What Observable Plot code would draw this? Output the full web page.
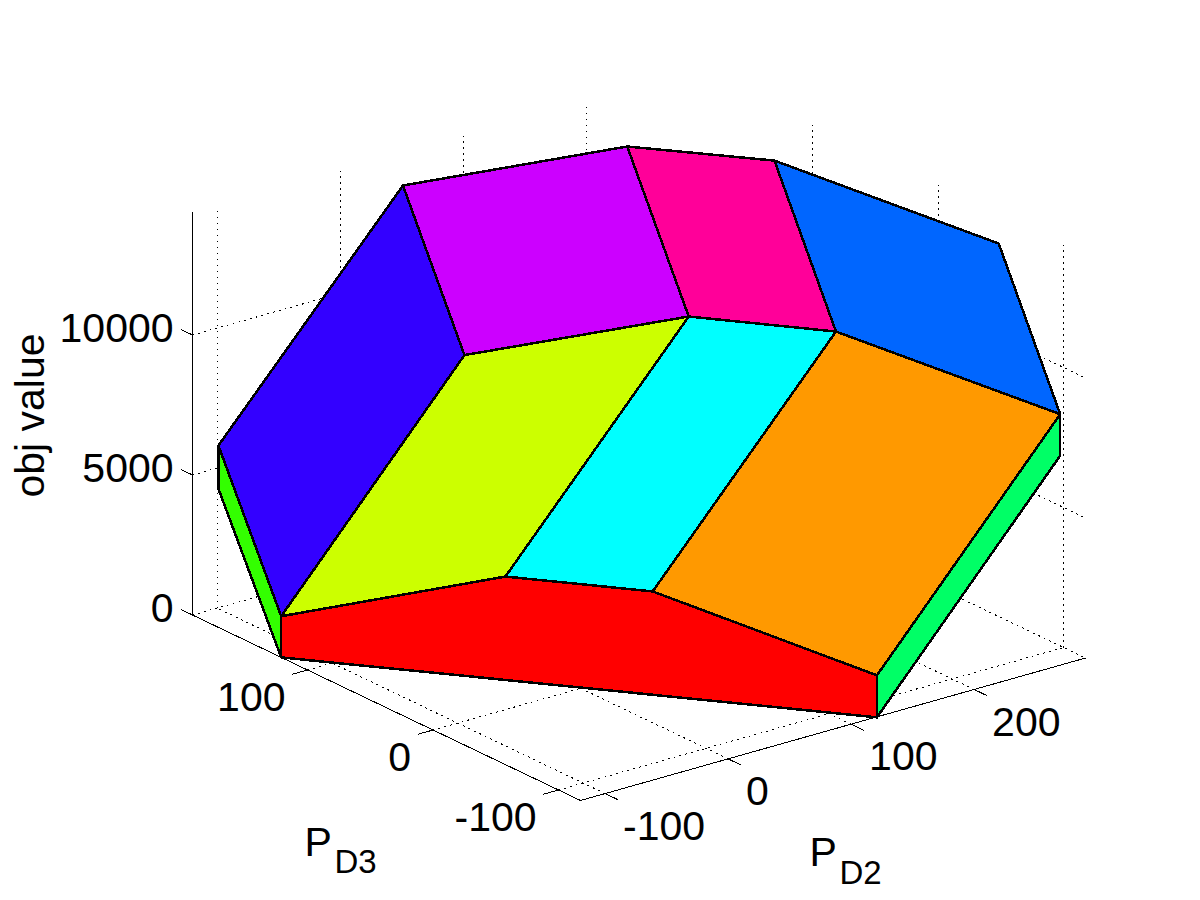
<!DOCTYPE html>
<html>
<head>
<meta charset="utf-8">
<style>html,body{margin:0;padding:0;background:#fff;}svg{display:block;}</style>
<script src="https://cdn.jsdelivr.net/npm/d3@7"></script>
<script src="https://cdn.jsdelivr.net/npm/@observablehq/plot@0.6"></script>
</head>
<body>
<div id="chart"></div>
<script>
const p2Ticks = [-100, 0, 100, 200];
const p3Ticks = [-100, 0, 100];
const objTicks = [0, 5000, 10000];
const p2Limits = [-120, 290.6];
const p3Limits = [-117.5, 191.6];
const objLimits = [0, 14360];

const vertexIds = ["a0","a1","a2","a3","b0","b1","b2","b3","c0","c1","c2","c3","l","lb","ab","bb","rb"];
const vertexP2  = [-120,-29.5,30,120.5, 29,119.5,179,269.5, 29,119.5,179,269.5, -120,-120, -120,120.5,269.5];
const vertexP3  = [121,31,-28,-118, 121,31,-28,-118, 170,80,21,-69, 171,171, 121,-118,-118];
const vertexObj = [1470,3695,3690,1500, 8950,11135,11125,8980, 13957,16157,16180,14025, 6496,4950, 0,0,7500];

const faceColors = ["#3300ff","#cc00ff","#ff0099","#0066ff","#ccff00","#00ffff","#ff9900","#ff0000","#33ff00","#00ff66"];
const faceVertices = [
  ["l","c0","b0","a0"],
  ["c0","c1","b1","b0"],
  ["c1","c2","b2","b1"],
  ["c2","c3","b3","b2"],
  ["b0","b1","a1","a0"],
  ["b1","b2","a2","a1"],
  ["b2","b3","a3","a2"],
  ["a0","a1","a2","a3","bb","ab"],
  ["l","a0","ab","lb"],
  ["a3","b3","rb","bb"]
];

// MATLAB-style orthographic view of the axes box
const sx = (p2, p3) => 580 + 1.23 * (p2 - p2Limits[0]) - 1.255 * (p3 - p3Limits[0]);
const sy = (p2, p3, z) => 800 - 0.347 * (p2 - p2Limits[0]) - 0.6 * (p3 - p3Limits[0]) - 0.028 * z;
const pt = (p2, p3, z, key) => ({x: sx(p2, p3), y: sy(p2, p3, z), key});

const byId = new Map(vertexIds.map((id, i) => [id, [vertexP2[i], vertexP3[i], vertexObj[i]]]));
const faceRows = faceVertices.flatMap((ids, f) => ids.map(id => {
  const [a, b, c] = byId.get(id);
  return {...pt(a, b, c), face: f, color: faceColors[f]};
}));

const [p2a, p2b] = p2Limits, [p3a, p3b] = p3Limits, [za, zb] = objLimits;
const seg = (key, a, b) => [pt(...a, key), pt(...b, key)];

const gridRows = [
  ...p2Ticks.flatMap(v => [
    ...seg("fp2" + v, [v, p3a, 0], [v, p3b, 0]),
    ...seg("wp2" + v, [v, p3b, 0], [v, p3b, zb])
  ]),
  ...p3Ticks.flatMap(v => [
    ...seg("fp3" + v, [p2a, v, 0], [p2b, v, 0]),
    ...seg("wp3" + v, [p2b, v, 0], [p2b, v, zb])
  ]),
  ...objTicks.flatMap(v => [
    ...seg("wa" + v, [p2a, p3b, v], [p2b, p3b, v]),
    ...seg("wb" + v, [p2b, p3b, v], [p2b, p3a, v])
  ])
];

const axisRows = [
  ...seg("az", [p2a, p3b, za], [p2a, p3b, zb]),
  ...seg("ap3", [p2a, p3b, 0], [p2a, p3a, 0]),
  ...seg("ap2", [p2a, p3a, 0], [p2b, p3a, 0]),
  ...p2Ticks.flatMap(v => seg("tp2" + v, [v, p3a, 0], [v, p3a - 10, 0])),
  ...p3Ticks.flatMap(v => seg("tp3" + v, [p2a, v, 0], [p2a - 12, v, 0])),
  ...objTicks.flatMap(v => seg("tz" + v, [p2a, p3b, v], [p2a, p3b + 9, v]))
];

const p2Labels = p2Ticks.map(v => ({...pt(v, p3a, 0), text: String(v)}));
const p3Labels = p3Ticks.map(v => ({...pt(p2a, v, 0), text: String(v)}));
const zLabels = objTicks.map(v => ({...pt(p2a, p3b, v), text: String(v)}));

const font = {fontFamily: "Liberation Sans, Arial, sans-serif", fill: "black"};

const plot = Plot.plot({
  width: 1200,
  height: 900,
  margin: 0,
  style: {background: "white"},
  x: {domain: [0, 1200], range: [0, 1200], axis: null},
  y: {domain: [0, 900], range: [0, 900], axis: null},
  color: {type: "identity"},
  marks: [
    Plot.line(gridRows, {x: "x", y: "y", z: "key", stroke: "black", strokeWidth: 1, strokeDasharray: "1 5", shapeRendering: "crispEdges"}),
    Plot.line(axisRows, {x: "x", y: "y", z: "key", stroke: "black", strokeWidth: 1, shapeRendering: "crispEdges"}),
    Plot.line(faceRows, {x: "x", y: "y", z: "face", fill: "color", stroke: "black", strokeWidth: 2.5, curve: "linear-closed", strokeLinejoin: "round", shapeRendering: "crispEdges"}),
    Plot.text(p2Labels, {x: "x", y: "y", text: "text", ...font, fontSize: 41, textAnchor: "start", dx: 18, dy: 33}),
    Plot.text(p3Labels, {x: "x", y: "y", text: "text", ...font, fontSize: 41, textAnchor: "end", dx: -22, dy: 28}),
    Plot.text(zLabels, {x: "x", y: "y", text: "text", ...font, fontSize: 41, textAnchor: "end", dx: -19, dy: -6}),
    Plot.text(["obj value"], {x: 30, y: 415, text: d => d, ...font, fontSize: 41, rotate: -90}),
    Plot.text(["P"], {x: 304, y: 842, text: d => d, ...font, fontSize: 41, textAnchor: "start"}),
    Plot.text(["D3"], {x: 334, y: 862, text: d => d, ...font, fontSize: 33, textAnchor: "start"}),
    Plot.text(["P"], {x: 809, y: 852, text: d => d, ...font, fontSize: 41, textAnchor: "start"}),
    Plot.text(["D2"], {x: 839, y: 873, text: d => d, ...font, fontSize: 33, textAnchor: "start"})
  ]
});
document.getElementById("chart").appendChild(plot);
</script>
</body>
</html>
